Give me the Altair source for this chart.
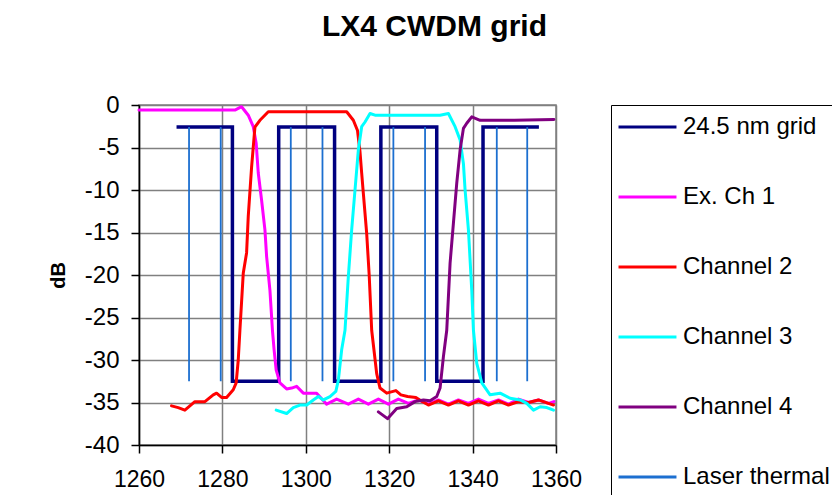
import altair as alt
import pandas as pd

# ---------------- data ----------------
series_names = ["24.5 nm grid", "Ex. Ch 1", "Channel 2", "Channel 3", "Channel 4",
                "Laser thermal variation"]
series_colors = ["#000080", "#FF00FF", "#FF0000", "#00FFFF", "#800080", "#1C6FD0"]

grid_wl = [1269.0, 1282.4, 1282.4, 1293.5, 1293.5, 1306.9, 1306.9, 1318.0, 1318.0,
           1331.4, 1331.4, 1342.5, 1342.5, 1355.9]
grid_db = [-2.6, -2.6, -32.5, -32.5, -2.6, -2.6, -32.5, -32.5, -2.6,
           -2.6, -32.5, -32.5, -2.6, -2.6]

ch1_wl = [1260, 1270, 1280, 1283.0, 1284.6, 1286.2, 1287.4, 1288.1, 1288.6, 1289.4,
          1290.2, 1290.6, 1291.4, 1292.0, 1292.4, 1292.9, 1293.8, 1295.4, 1296.6,
          1297.8, 1299.4, 1302.6, 1305.0, 1307.4, 1310.2, 1312.6, 1315.0, 1317.4,
          1319.8, 1322.2, 1324.6, 1327.0, 1329.4, 1331.8, 1334.2, 1336.6, 1339.0,
          1341.4, 1343.8, 1346.2, 1348.6, 1351.0, 1353.4, 1355.8, 1358.2, 1359.5]
ch1_db = [-0.6, -0.6, -0.6, -0.6, -0.2, -1.2, -2.55, -4.5, -8.0, -11.2,
          -14.7, -17.8, -21.8, -26.5, -28.8, -31.2, -32.7, -33.4, -33.3,
          -33.1, -33.9, -33.9, -35.2, -34.6, -35.2, -34.6, -35.2, -34.6,
          -35.2, -34.6, -35.1, -34.7, -35.2, -34.7, -35.2, -34.7, -35.1,
          -34.6, -35.1, -34.7, -35.2, -34.6, -35.0, -34.7, -35.1, -34.9]

ch2_wl = [1267.8, 1269.4, 1271.0, 1272.2, 1273.4, 1275.8, 1277.8, 1278.6, 1279.8,
          1281.0, 1282.6, 1283.3, 1283.8, 1284.2, 1285.0, 1285.8, 1286.2, 1287.0,
          1287.8, 1289.0, 1291.0, 1300.0, 1309.8, 1311.4, 1312.4, 1313.0, 1313.4,
          1313.8, 1314.6, 1315.2, 1315.8, 1317.0, 1317.8, 1319.4, 1321.6, 1322.8,
          1324.4, 1326.4, 1328.0, 1329.4, 1331.8, 1334.2, 1336.6, 1339.0, 1341.4,
          1343.8, 1346.2, 1348.6, 1351.0, 1353.4, 1355.8, 1358.2, 1359.4]
ch2_db = [-35.4, -35.6, -35.9, -35.4, -34.9, -34.9, -34.1, -33.9, -34.4,
          -34.4, -33.5, -32.7, -30.0, -26.5, -19.8, -17.4, -13.1, -7.3,
          -2.6, -1.8, -0.8, -0.8, -0.8, -1.8, -3.0, -5.5, -8.0,
          -10.4, -15.1, -20.0, -26.5, -31.6, -33.3, -33.9, -33.6, -34.1,
          -34.3, -34.4, -34.9, -35.3, -34.8, -35.3, -34.8, -35.3, -34.8,
          -35.3, -34.8, -35.3, -34.9, -35.0, -34.7, -35.1, -35.3]

ch3_wl = [1292.9, 1295.4, 1297.0, 1298.6, 1300.2, 1301.8, 1303.0, 1304.2, 1305.8,
          1307.2, 1307.8, 1308.6, 1309.4, 1310.2, 1311.0, 1311.8, 1312.6, 1313.4,
          1314.2, 1315.4, 1316.6, 1324.0, 1332.2, 1334.2, 1335.8, 1337.0, 1337.8,
          1338.2, 1339.0, 1339.8, 1340.2, 1341.0, 1342.2, 1344.2, 1346.6, 1349.0,
          1351.4, 1353.0, 1354.6, 1356.2, 1357.8, 1359.4]
ch3_db = [-35.9, -36.3, -35.6, -35.3, -35.3, -34.7, -34.3, -34.7, -34.3,
          -33.7, -32.4, -28.8, -26.5, -20.2, -14.7, -10.0, -5.3, -2.55,
          -2.0, -1.0, -1.2, -1.2, -1.2, -1.0, -2.55, -4.1, -6.9,
          -10.0, -14.7, -21.8, -26.5, -30.4, -32.7, -34.1, -33.9, -34.5,
          -34.7, -35.1, -35.9, -35.5, -35.6, -35.9]

ch4_wl = [1317.4, 1319.6, 1321.8, 1324.2, 1326.2, 1328.2, 1329.8, 1331.4, 1332.2,
          1333.0, 1333.8, 1334.6, 1335.4, 1336.2, 1337.0, 1337.8, 1338.6, 1339.8,
          1341.8, 1350.0, 1359.5]
ch4_db = [-36.1, -36.9, -35.7, -35.5, -34.9, -34.7, -34.8, -34.3, -33.3,
          -29.6, -26.5, -18.6, -13.9, -9.2, -5.3, -2.75, -2.15, -1.4,
          -1.8, -1.8, -1.7]

laser_wl = [1272.0, 1279.6, 1296.4, 1304.0, 1321.0, 1328.6, 1345.8, 1353.1]
laser_top = [-2.6] * 8
laser_bot = [-32.5] * 8

x_ticks = [1260, 1280, 1300, 1320, 1340, 1360]
y_ticks = [-40, -35, -30, -25, -20, -15, -10, -5, 0]

# ---------------- tables ----------------
rows = []
for name, wl, db in [(series_names[0], grid_wl, grid_db),
                     (series_names[1], ch1_wl, ch1_db),
                     (series_names[2], ch2_wl, ch2_db),
                     (series_names[3], ch3_wl, ch3_db),
                     (series_names[4], ch4_wl, ch4_db)]:
    for i, (w, d) in enumerate(zip(wl, db)):
        rows.append({"series": name, "wl": w, "db": d, "ord": i})
lines_df = pd.DataFrame(rows)
laser_df = pd.DataFrame({"series": series_names[5], "wl": laser_wl,
                         "top": laser_top, "bot": laser_bot})

FONT = "Liberation Sans"

legend = alt.Legend(
    title=None, orient="none", legendX=472, legendY=0,
    symbolType="M-2,0H6", symbolSize=210, symbolStrokeWidth=3,
    labelFontSize=24, labelFont=FONT, labelColor="black", labelLimit=600,
    labelOffset=38, padding=10, rowPadding=46,
    strokeColor="black", fillColor="white",
)

color = alt.Color("series:N",
                  scale=alt.Scale(domain=series_names, range=series_colors),
                  legend=legend)

x_enc = alt.X("wl:Q", scale=alt.Scale(domain=[1260, 1360], nice=False, zero=False),
              axis=alt.Axis(values=x_ticks, title=None,
                            labelExpr="toString(datum.value)"))
y_enc = alt.Y("db:Q", scale=alt.Scale(domain=[-40, 0], nice=False, zero=False),
              axis=alt.Axis(values=y_ticks, title="dB",
                            labelExpr="toString(datum.value)"))

grid_layer = alt.Chart(lines_df[lines_df.series == series_names[0]]).mark_line(
    strokeCap="butt", strokeJoin="miter", strokeWidth=3.5).encode(
    x=x_enc, y=y_enc, color=color, order="ord:Q", detail="series:N")

laser_layer = alt.Chart(laser_df).mark_rule(strokeWidth=1.8).encode(
    x=alt.X("wl:Q"), y=alt.Y("top:Q"), y2="bot:Q", color=color)

curve_layer = alt.Chart(lines_df[lines_df.series != series_names[0]]).mark_line(
    strokeCap="round", strokeJoin="round", strokeWidth=3).encode(
    x=x_enc, y=y_enc, color=color, order="ord:Q", detail="series:N")

chart = alt.layer(grid_layer, laser_layer, curve_layer).properties(
    width=417, height=340,
    autosize=alt.AutoSizeParams(type="none"),
    padding={"left": 131, "top": 97, "right": 276, "bottom": 50},
    background="white",
    title=alt.TitleParams("LX4 CWDM grid", font=FONT, fontSize=30, fontWeight="bold",
                          color="black", anchor="middle", dx=87, offset=51),
).configure_view(
    stroke="#808080", strokeWidth=1.5
).configure_axis(
    labelFont=FONT, labelFontSize=24, labelColor="black", labelFlush=False,
    titleFont=FONT, titleFontSize=20, titleFontWeight="bold", titleColor="black",
    gridColor="#808080", gridWidth=1.5, gridOpacity=1,
    domainColor="black", domainWidth=1.5,
    tickColor="black", tickSize=8, tickWidth=1.5,
).configure_axisX(
    labelPadding=15, labelFontSize=23,
).configure_axisY(
    labelPadding=12, titlePadding=16,
)

chart.save("out.html", embed_options={"renderer": "svg", "actions": False})
